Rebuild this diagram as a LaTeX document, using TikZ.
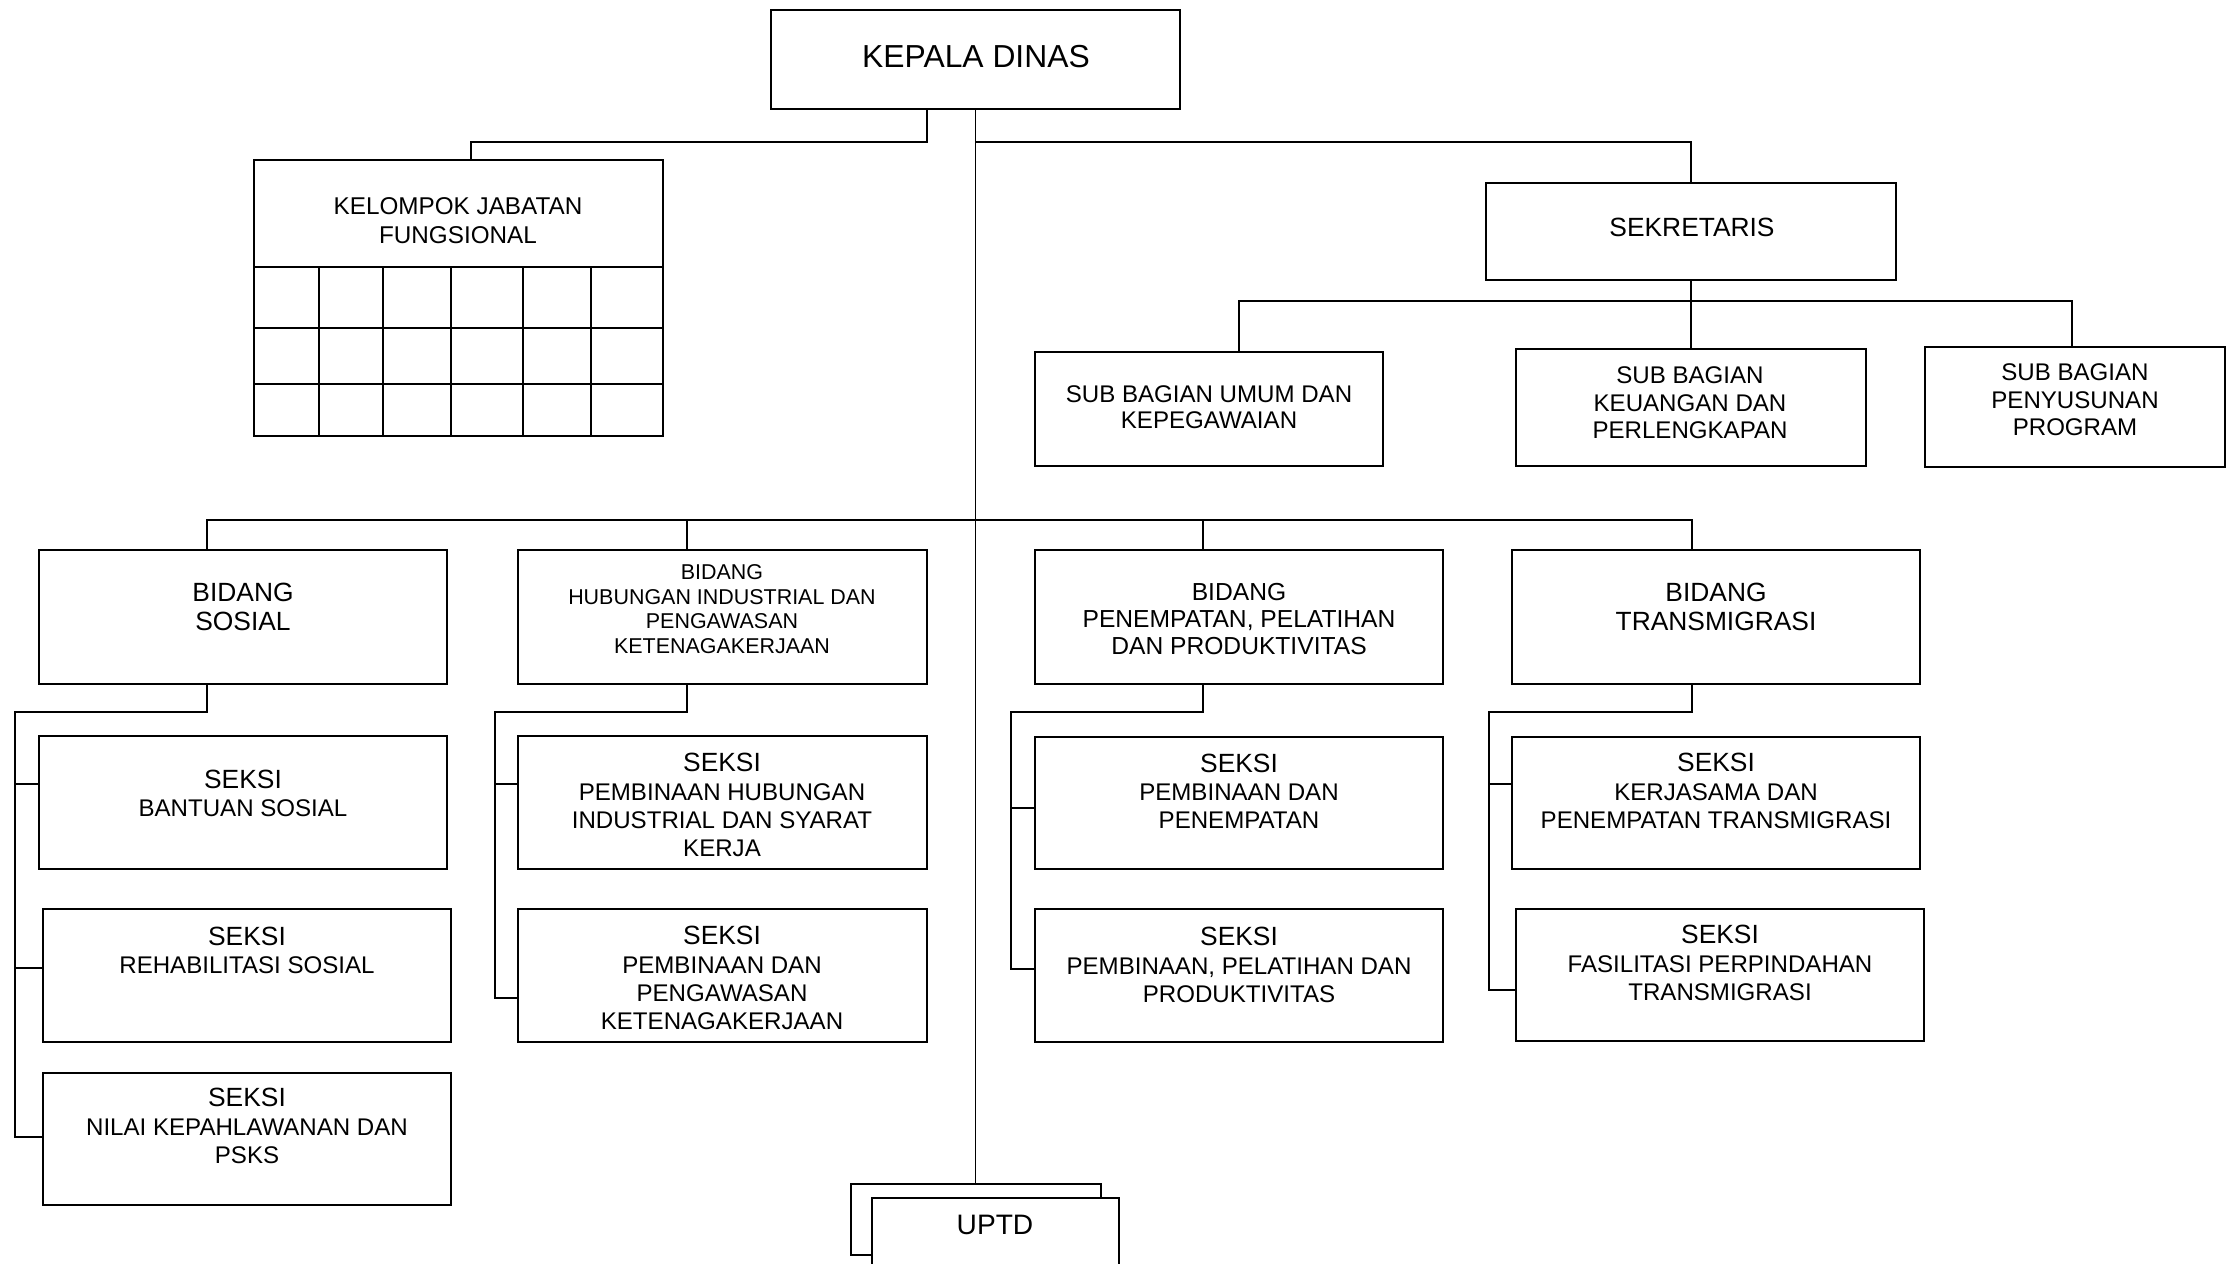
\documentclass[tikz,border=0pt]{standalone}
\usepackage{fontspec}
\setmainfont{Liberation Sans}
\usetikzlibrary{positioning}
\newcommand{\sksi}{{\fontsize{7.5}{8}\selectfont SEKSI}}

\begin{document}
\begin{tikzpicture}[x=0.01cm,y=-0.01cm,line width=.55pt,
                    box/.style 2 args={draw,inner sep=0pt,minimum width=#1,minimum height=#2},
                    bidang/.style={box={4.08cm}{1.34cm}},
                    seksi/.style={box={4.08cm}{1.32cm}},
                    txt/.style={align=center,inner sep=0pt,font=\fontsize{6.85}{8}\selectfont},
                    big/.style={txt,font=\fontsize{7.5}{8.3}\selectfont}]
\clip (0,0) rectangle (2227,1264);
% pimpinan
\node[box={4.09cm}{.99cm}] (kd) at (975.5,59.5) {};
\node[txt,font=\fontsize{9.05}{10}\selectfont] (kdT) at (976,57) {KEPALA DINAS};
\node[box={4.09cm}{2.76cm}] (kjf) at (458.5,298) {};
\node[txt,font=\fontsize{6.9}{8.2}\selectfont] (kjfT) at (458,221) {KELOMPOK JABATAN\\FUNGSIONAL};
\foreach \y in {267,328,384} \draw (254,\y) -- (663,\y);
\foreach \x in {319,383,451,523,591} \draw (\x,267) -- (\x,436);
% sekretariat
\node[box={4.09cm}{.97cm}] (sek) at (1691,231.5) {};
\node[big] (sekT) at (1692,227) {SEKRETARIS};
\node[box={3.48cm}{1.14cm}] (sb1) at (1209,409) {};
\node[txt,font=\fontsize{6.85}{7.4}\selectfont] (sb1T) at (1209,407) {SUB BAGIAN UMUM DAN\\KEPEGAWAIAN};
\node[box={3.49cm}{1.17cm}] (sb2) at (1691,407.5) {};
\node[txt,font=\fontsize{6.85}{7.8}\selectfont] (sb2T) at (1690,403) {SUB BAGIAN\\KEUANGAN DAN\\PERLENGKAPAN};
\node[box={3.00cm}{1.20cm}] (sb3) at (2075,407) {};
\node[txt,font=\fontsize{6.85}{7.8}\selectfont] (sb3T) at (2075,400) {SUB BAGIAN\\PENYUSUNAN\\PROGRAM};
% bidang
\node[bidang] (b1) at (243,617) {};
\node[big] (b1T) at (243,607) {BIDANG\\SOSIAL};
\node[bidang] (b2) at (722.5,617) {};
\node[txt,font=\fontsize{6.1}{7}\selectfont] (b2T) at (722,609) {BIDANG\\HUBUNGAN INDUSTRIAL DAN\\PENGAWASAN\\KETENAGAKERJAAN};
\node[bidang] (b3) at (1239,617) {};
\node[txt,font=\fontsize{7}{7.7}\selectfont] (b3T) at (1239,619) {BIDANG\\PENEMPATAN, PELATIHAN\\DAN PRODUKTIVITAS};
\node[bidang] (b4) at (1716,617) {};
\node[big] (b4T) at (1716,607) {BIDANG\\TRANSMIGRASI};
% seksi
\node[seksi] (s11) at (243,802.5) {};
\node[txt] (s11T) at (243,793) {\sksi\\BANTUAN SOSIAL};
\node[seksi] (s12) at (247,975.5) {};
\node[txt] (s12T) at (247,950) {\sksi\\REHABILITASI SOSIAL};
\node[seksi] (s13) at (247,1139) {};
\node[txt] (s13T) at (247,1126) {\sksi\\NILAI KEPAHLAWANAN DAN\\PSKS};
\node[seksi] (s21) at (722.5,802.5) {};
\node[txt] (s21T) at (722,805) {\sksi\\PEMBINAAN HUBUNGAN\\INDUSTRIAL DAN SYARAT\\KERJA};
\node[seksi] (s22) at (722.5,975.5) {};
\node[txt] (s22T) at (722,978) {\sksi\\PEMBINAAN DAN\\PENGAWASAN\\KETENAGAKERJAAN};
\node[seksi] (s31) at (1239,803) {};
\node[txt] (s31T) at (1239,791) {\sksi\\PEMBINAAN DAN\\PENEMPATAN};
\node[seksi] (s32) at (1239,975.5) {};
\node[txt] (s32T) at (1239,965) {\sksi\\PEMBINAAN, PELATIHAN DAN\\PRODUKTIVITAS};
\node[seksi] (s41) at (1716,803) {};
\node[txt] (s41T) at (1716,791) {\sksi\\KERJASAMA DAN\\PENEMPATAN TRANSMIGRASI};
\node[seksi] (s42) at (1720,975) {};
\node[txt] (s42T) at (1720,963) {\sksi\\FASILITASI PERPINDAHAN\\TRANSMIGRASI};
% uptd
\node[box={2.50cm}{.71cm}] (upb) at (976,1219.5) {};
\node[box={2.47cm}{.92cm},fill=white] (uptd) at (995.5,1244) {};
\node[txt,font=\fontsize{8}{9}\selectfont] (uptdT) at (995,1225) {UPTD};

% garis
\coordinate (kdj) at ([yshift=-.32cm]kd.south);
\coordinate (bj) at (975.5,520);
\coordinate (sbj) at (1691,301);
\draw (kd.south) -- (kd.south |- upb.north);
\draw ([xshift=-.485cm]kd.south) -- ++(0,32) -| ([xshift=.125cm]kjf.north);
\draw (kdj) -| (sek.north);
\draw (sek.south) -- (sb2.north);
\draw ([xshift=.3cm]sb1.north) |- (sbj) -| ([xshift=-.03cm]sb3.north);
\coordinate (b2d) at ([xshift=-.355cm]b2.north);
\coordinate (b3d) at ([xshift=-.36cm]b3.north);
\draw ([xshift=-.36cm]b1.north) |- (bj) -| ([xshift=-.24cm]b4.north);
\draw (b2d) -- (b2d |- bj);
\draw (b3d) -- (b3d |- bj);
\coordinate (k1) at (15,712);
\coordinate (k2) at (495,712);
\coordinate (k3) at (1011,712);
\coordinate (k4) at (1489,712);
\draw ([xshift=-.36cm]b1.south) |- (k1) |- ([yshift=.185cm]s11.west);
\draw (k1) |- ([yshift=.075cm]s12.west);
\draw (k1) |- ([yshift=.02cm]s13.west);
\draw ([xshift=-.355cm]b2.south) |- (k2) |- ([yshift=.185cm]s21.west);
\draw (k2) |- ([yshift=-.225cm]s22.west);
\draw ([xshift=-.36cm]b3.south) |- (k3) |- ([yshift=-.05cm]s31.west);
\draw (k3) |- ([yshift=.065cm]s32.west);
\draw ([xshift=-.24cm]b4.south) |- (k4) |- ([yshift=.19cm]s41.west);
\draw (k4) |- ([yshift=-.15cm]s42.west);
\end{tikzpicture}
\end{document}
